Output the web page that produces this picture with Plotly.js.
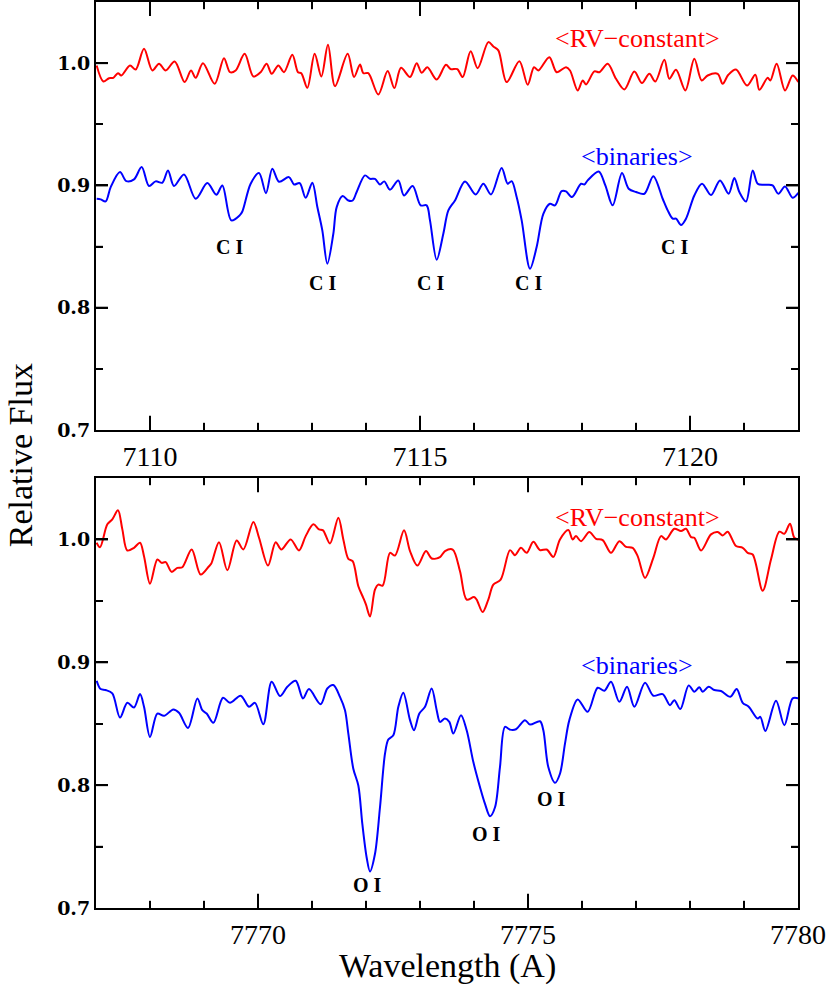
<!DOCTYPE html>
<html>
<head>
<meta charset="utf-8">
<script src="https://cdn.plot.ly/plotly-3.0.1.min.js"></script>
<style>
  body { margin: 0; background: #fff; }
  #graph { width: 830px; height: 988px; }
</style>
</head>
<body>
<div id="graph"></div>
<script>
// C I region (top panel)
let rvWaveCI = [7109.012,7109.136,7109.241,7109.321,7109.407,7109.469,7109.630,7109.735,7109.889,7110.043,7110.167,7110.290,7110.457,7110.642,7110.759,7110.846,7110.981,7111.198,7111.370,7111.481,7111.586,7111.753,7111.914,7112.049,7112.160,7112.253,7112.377,7112.481,7112.636,7112.741,7112.802,7112.914,7113.049,7113.173,7113.296,7113.426,7113.660,7113.778,7113.889,7113.951,7114.043,7114.228,7114.401,7114.525,7114.648,7114.815,7114.938,7115.031,7115.136,7115.309,7115.481,7115.568,7115.691,7115.790,7115.938,7116.068,7116.265,7116.358,7116.451,7116.605,7116.840,7116.994,7117.111,7117.191,7117.395,7117.531,7117.704,7117.778,7117.920,7118.013,7118.074,7118.229,7118.321,7118.476,7118.630,7118.784,7118.969,7119.111,7119.247,7119.358,7119.525,7119.618,7119.741,7119.914,7120.080,7120.216,7120.327,7120.513,7120.605,7120.710,7120.852,7121.056,7121.210,7121.284,7121.439,7121.488,7121.605,7121.760,7121.901,7122.006];
let rvFluxCI = [0.9981,0.9850,0.9877,0.9880,0.9918,0.9899,0.9981,0.9948,1.0117,0.9940,0.9995,0.9940,1.0014,0.9845,0.9940,0.9880,1.0000,0.9831,1.0041,0.9926,0.9940,1.0076,0.9891,0.9926,0.9995,0.9913,0.9981,0.9926,1.0068,0.9926,0.9918,0.9798,1.0076,0.9891,1.0150,0.9812,1.0076,0.9886,0.9989,0.9918,0.9918,0.9744,0.9935,0.9796,0.9962,0.9886,1.0000,0.9921,0.9967,0.9866,0.9986,0.9951,0.9951,0.9886,1.0098,0.9959,1.0172,1.0136,1.0104,0.9845,1.0016,0.9823,0.9967,0.9940,1.0049,0.9926,0.9967,0.9940,0.9777,0.9858,0.9826,0.9932,0.9926,0.9995,0.9872,0.9785,0.9932,0.9837,0.9913,0.9850,1.0027,0.9872,0.9946,0.9777,1.0035,0.9858,0.9899,0.9913,0.9831,0.9905,0.9948,0.9817,0.9905,0.9782,0.9880,0.9858,0.9995,0.9777,0.9899,0.9845];

let binWaveCI = [7109.012,7109.086,7109.179,7109.272,7109.444,7109.562,7109.704,7109.846,7109.981,7110.105,7110.228,7110.333,7110.444,7110.630,7110.846,7111.062,7111.228,7111.340,7111.506,7111.660,7111.710,7111.864,7112.019,7112.148,7112.265,7112.389,7112.574,7112.667,7112.772,7112.883,7113.006,7113.099,7113.191,7113.284,7113.395,7113.457,7113.568,7113.673,7113.753,7113.827,7113.981,7114.074,7114.166,7114.259,7114.339,7114.444,7114.598,7114.703,7114.864,7115.012,7115.123,7115.185,7115.309,7115.432,7115.525,7115.648,7115.833,7116.031,7116.173,7116.315,7116.512,7116.623,7116.697,7116.790,7116.883,7117.037,7117.160,7117.284,7117.407,7117.500,7117.623,7117.704,7117.815,7117.982,7118.043,7118.105,7118.309,7118.432,7118.568,7118.741,7118.864,7119.000,7119.155,7119.321,7119.494,7119.587,7119.679,7119.741,7119.834,7119.926,7120.080,7120.223,7120.389,7120.556,7120.716,7120.821,7120.914,7121.037,7121.161,7121.253,7121.358,7121.438,7121.531,7121.636,7121.759,7121.901,7122.006];
let binFluxCI = [0.8891,0.8886,0.8869,0.8986,0.9109,0.9035,0.9049,0.9150,0.8995,0.9033,0.9022,0.9123,0.8995,0.9090,0.8891,0.9019,0.8924,0.9000,0.8714,0.8755,0.8787,0.9014,0.9101,0.8937,0.9136,0.9030,0.9068,0.9008,0.9019,0.8899,0.9022,0.8823,0.8632,0.8360,0.8605,0.8823,0.8913,0.8877,0.8877,0.8946,0.9082,0.9054,0.9054,0.9008,0.9033,0.8965,0.9041,0.8918,0.8995,0.8837,0.8837,0.8714,0.8392,0.8605,0.8796,0.8877,0.9033,0.8926,0.9014,0.8926,0.9142,0.9014,0.9035,0.8905,0.8714,0.8319,0.8496,0.8768,0.8850,0.8837,0.8954,0.8951,0.8905,0.9014,0.9008,0.9041,0.9114,0.9000,0.8837,0.9101,0.8973,0.8946,0.8932,0.9076,0.8891,0.8796,0.8728,0.8728,0.8676,0.8728,0.8918,0.9014,0.8921,0.9041,0.8932,0.9060,0.8946,0.8869,0.9123,0.9014,0.9005,0.9005,0.9000,0.8932,0.8992,0.8899,0.8940];

// O I region (bottom panel)
let rvWaveOI = [7767.012,7767.074,7767.210,7767.302,7767.407,7767.488,7767.580,7767.704,7767.815,7767.889,7768.000,7768.136,7768.216,7768.290,7768.401,7768.506,7768.599,7768.772,7768.938,7769.093,7769.136,7769.278,7769.432,7769.605,7769.728,7769.914,7770.019,7770.185,7770.327,7770.432,7770.605,7770.759,7770.883,7771.025,7771.130,7771.204,7771.333,7771.488,7771.580,7771.673,7771.753,7771.858,7771.951,7772.000,7772.074,7772.166,7772.228,7772.309,7772.444,7772.537,7772.704,7772.815,7772.951,7773.111,7773.216,7773.370,7773.463,7773.605,7773.741,7773.864,7774.000,7774.049,7774.160,7774.265,7774.358,7774.494,7774.667,7774.759,7774.870,7774.975,7775.099,7775.222,7775.346,7775.469,7775.592,7775.747,7775.827,7775.889,7775.982,7776.136,7776.260,7776.383,7776.537,7776.692,7776.815,7776.938,7777.031,7777.167,7777.321,7777.463,7777.556,7777.710,7777.834,7777.926,7778.019,7778.080,7778.204,7778.389,7778.513,7778.605,7778.698,7778.852,7778.976,7779.068,7779.161,7779.346,7779.500,7779.655,7779.747,7779.852,7779.932,7780.006];
let rvFluxOI = [0.9973,0.9937,1.0123,1.0163,1.0237,1.0082,0.9910,0.9932,0.9973,0.9864,0.9640,0.9837,0.9809,0.9815,0.9736,0.9768,0.9774,0.9918,0.9714,0.9782,0.9804,0.9978,0.9749,0.9992,0.9918,1.0142,1.0014,0.9787,0.9978,0.9918,1.0000,0.9910,1.0027,1.0123,1.0082,1.0074,0.9967,1.0177,1.0000,0.9842,0.9823,0.9619,0.9523,0.9469,0.9373,0.9591,0.9632,0.9624,0.9891,0.9869,1.0074,0.9905,0.9787,0.9905,0.9845,0.9856,0.9905,0.9918,0.9741,0.9510,0.9531,0.9510,0.9409,0.9510,0.9632,0.9673,0.9913,0.9872,0.9932,0.9891,0.9981,0.9913,0.9918,0.9858,1.0000,1.0076,1.0000,1.0027,0.9986,1.0060,1.0005,0.9995,0.9891,0.9986,0.9940,0.9932,0.9864,0.9687,0.9850,1.0027,1.0000,1.0087,1.0068,1.0087,1.0019,1.0014,0.9910,1.0041,1.0060,1.0033,1.0063,0.9946,0.9932,0.9891,0.9877,0.9583,0.9837,1.0063,1.0046,1.0128,1.0014,1.0000];

let binWaveOI = [7767.012,7767.086,7767.179,7767.302,7767.444,7767.580,7767.704,7767.815,7767.889,7768.000,7768.136,7768.259,7768.432,7768.537,7768.704,7768.877,7768.969,7769.049,7769.173,7769.352,7769.481,7769.679,7769.833,7769.944,7770.099,7770.253,7770.407,7770.543,7770.698,7770.833,7770.944,7771.160,7771.284,7771.395,7771.518,7771.611,7771.673,7771.765,7771.858,7771.932,7772.012,7772.074,7772.166,7772.259,7772.352,7772.413,7772.506,7772.599,7772.691,7772.815,7772.889,7772.988,7773.093,7773.216,7773.309,7773.370,7773.463,7773.543,7773.617,7773.759,7773.864,7773.988,7774.111,7774.204,7774.296,7774.389,7774.481,7774.574,7774.667,7774.778,7774.944,7775.037,7775.222,7775.284,7775.376,7775.500,7775.592,7775.685,7775.766,7775.920,7776.105,7776.290,7776.414,7776.537,7776.692,7776.834,7776.969,7777.167,7777.321,7777.494,7777.630,7777.710,7777.821,7777.976,7778.080,7778.173,7778.235,7778.346,7778.451,7778.574,7778.747,7778.864,7778.976,7779.087,7779.253,7779.303,7779.395,7779.593,7779.747,7779.901,7780.006];
let binFluxOI = [0.8850,0.8782,0.8774,0.8747,0.8550,0.8670,0.8632,0.8741,0.8638,0.8392,0.8583,0.8564,0.8616,0.8589,0.8466,0.8706,0.8610,0.8583,0.8507,0.8711,0.8670,0.8728,0.8638,0.8670,0.8496,0.8842,0.8725,0.8801,0.8850,0.8706,0.8782,0.8659,0.8787,0.8815,0.8719,0.8610,0.8420,0.8134,0.7997,0.7684,0.7411,0.7297,0.7439,0.7820,0.8256,0.8371,0.8406,0.8638,0.8752,0.8529,0.8447,0.8583,0.8638,0.8787,0.8610,0.8515,0.8542,0.8515,0.8420,0.8569,0.8447,0.8188,0.7984,0.7847,0.7747,0.7820,0.8147,0.8474,0.8452,0.8455,0.8529,0.8493,0.8520,0.8447,0.8147,0.8019,0.8093,0.8338,0.8529,0.8698,0.8597,0.8793,0.8768,0.8842,0.8678,0.8801,0.8638,0.8834,0.8728,0.8741,0.8651,0.8692,0.8619,0.8812,0.8760,0.8796,0.8760,0.8801,0.8774,0.8766,0.8719,0.8782,0.8670,0.8638,0.8542,0.8556,0.8441,0.8687,0.8488,0.8706,0.8706];

// tick values
let majorWaveCI = [7110, 7115, 7120];
let minorWaveCI = [7111, 7112, 7113, 7114, 7116, 7117, 7118, 7119, 7121];
let majorWaveOI = [7770, 7775];
let minorWaveOI = [7768, 7769, 7771, 7772, 7773, 7774, 7776, 7777, 7778, 7779];
let majorFlux = [0.8, 0.9, 1.0];
let minorFlux = [0.75, 0.85, 0.95];

// line labels
let lineLabelsCI = ['C I', 'C I', 'C I', 'C I', 'C I'];
let lineLabelXCI = [7111.47, 7113.20, 7115.20, 7117.00, 7119.72];
let lineLabelYCI = [0.850, 0.820, 0.820, 0.820, 0.850];
let lineLabelsOI = ['O I', 'O I', 'O I'];
let lineLabelXOI = [7772.02, 7774.24, 7775.44];
let lineLabelYOI = [0.719, 0.760, 0.789];

let groupNames = ['<RV\u2212constant>', '<binaries>'];
let groupLabelXCI = [7119.02, 7119.02];
let groupLabelYCI = [1.020, 0.924];
let groupLabelXOI = [7777.02, 7777.02];
let groupLabelYOI = [1.018, 0.897];

let serif = 'Liberation Serif, Times New Roman, serif';

function spectrum(x, y, color, xa, ya) {
    return {
        x: x, y: y, xaxis: xa, yaxis: ya,
        mode: 'lines',
        line: { color: color, width: 2, shape: 'spline', smoothing: 0.9 },
        showlegend: false
    };
}

function xAxis(range, tick0, anchor) {
    return {
        range: range, tick0: tick0, dtick: 5, anchor: anchor,
        showline: true, linewidth: 2, linecolor: 'black', mirror: 'ticks',
        ticks: 'inside', ticklen: 14, tickwidth: 2, tickcolor: 'black',
        minor: { dtick: 1, ticks: 'inside', ticklen: 7, tickcolor: 'black' },
        showgrid: true, gridcolor: '#ffffff', layer: 'above traces'
    };
}

function yAxis(domain, anchor) {
    return {
        range: [0.7, 1.05], dtick: 0.1, tickformat: '.1f', domain: domain, anchor: anchor,
        showline: true, linewidth: 2, linecolor: 'black', mirror: 'ticks',
        ticks: 'inside', ticklen: 12, tickwidth: 2, tickcolor: 'black',
        minor: { dtick: 0.05, ticks: 'inside', ticklen: 7, tickcolor: 'black' },
        showgrid: true, gridcolor: '#ffffff', layer: 'above traces',
        tickfont: { family: 'DejaVu Serif, serif', size: 19, weight: 'bold' }
    };
}

// tick marks on all four sides of a panel, placed through the axes
function tickShapes(xa, ya, majorX, minorX, majorY, minorY) {
    let shapes = [];
    let xdom = xa + ' domain', ydom = ya + ' domain';
    let add = function(vals, len, width, vertical) {
        vals.forEach(function(v) {
            if (vertical) {
                shapes.push({ type: 'line', layer: 'above', xref: xa, yref: ydom, x0: v, x1: v, y0: 0, y1: len, line: { color: 'black', width: width } });
                shapes.push({ type: 'line', layer: 'above', xref: xa, yref: ydom, x0: v, x1: v, y0: 1, y1: 1 - len, line: { color: 'black', width: width } });
            } else {
                shapes.push({ type: 'line', layer: 'above', xref: xdom, yref: ya, x0: 0, x1: len, y0: v, y1: v, line: { color: 'black', width: width } });
                shapes.push({ type: 'line', layer: 'above', xref: xdom, yref: ya, x0: 1, x1: 1 - len, y0: v, y1: v, line: { color: 'black', width: width } });
            }
        });
    };
    add(majorX, 0.033, 2, true);
    add(minorX, 0.017, 1.5, true);
    add(majorY, 0.017, 2, false);
    add(minorY, 0.010, 1.5, false);
    return shapes;
}

let data = [
    spectrum(rvWaveCI, rvFluxCI, '#ff0000', 'x', 'y'),
    spectrum(binWaveCI, binFluxCI, '#0000ff', 'x', 'y'),
    spectrum(rvWaveOI, rvFluxOI, '#ff0000', 'x2', 'y2'),
    spectrum(binWaveOI, binFluxOI, '#0000ff', 'x2', 'y2')
];

let annotations = [];
for (let i = 0; i < lineLabelsCI.length; i++) {
    annotations.push({ x: lineLabelXCI[i], y: lineLabelYCI[i], xref: 'x', yref: 'y', text: lineLabelsCI[i],
        showarrow: false, font: { family: serif, size: 20, color: 'black', weight: 'bold' } });
}
for (let i = 0; i < lineLabelsOI.length; i++) {
    annotations.push({ x: lineLabelXOI[i], y: lineLabelYOI[i], xref: 'x2', yref: 'y2', text: lineLabelsOI[i],
        showarrow: false, font: { family: serif, size: 20, color: 'black', weight: 'bold' } });
}
let groupColors = ['#ff0000', '#0000ff'];
for (let i = 0; i < groupNames.length; i++) {
    let txt = groupNames[i].replace(/</g, '&lt;').replace(/>/g, '&gt;');
    annotations.push({ x: groupLabelXCI[i], y: groupLabelYCI[i], xref: 'x', yref: 'y', text: txt,
        showarrow: false, font: { family: serif, size: 26, color: groupColors[i] } });
    annotations.push({ x: groupLabelXOI[i], y: groupLabelYOI[i], xref: 'x2', yref: 'y2', text: txt,
        showarrow: false, font: { family: serif, size: 26, color: groupColors[i] } });
}
annotations.push({ x: -0.108, y: 0.5, xref: 'paper', yref: 'paper', text: 'Relative Flux', textangle: -90,
    showarrow: false, xanchor: 'center', yanchor: 'middle', font: { family: serif, size: 34, color: 'black' } });
annotations.push({ x: 0.5, y: -0.064, xref: 'paper', yref: 'paper', text: 'Wavelength (A)',
    showarrow: false, xanchor: 'center', yanchor: 'middle', font: { family: serif, size: 34, color: 'black' } });

let shapes = tickShapes('x', 'y', majorWaveCI, minorWaveCI, majorFlux, minorFlux)
    .concat(tickShapes('x2', 'y2', majorWaveOI, minorWaveOI, majorFlux, minorFlux));

let layout = {
    width: 830, height: 988,
    margin: { l: 96, r: 32, t: 2, b: 80 },
    font: { family: serif, size: 28, color: 'black' },
    showlegend: false,
    xaxis: xAxis([7109, 7122], 7110, 'y'),
    yaxis: yAxis([0.5276, 1], 'x'),
    xaxis2: xAxis([7767, 7780], 7770, 'y2'),
    yaxis2: yAxis([0, 0.4746], 'x2'),
    annotations: annotations,
    shapes: shapes
};

Plotly.newPlot('graph', data, layout, { displayModeBar: false });
</script>
</body>
</html>
